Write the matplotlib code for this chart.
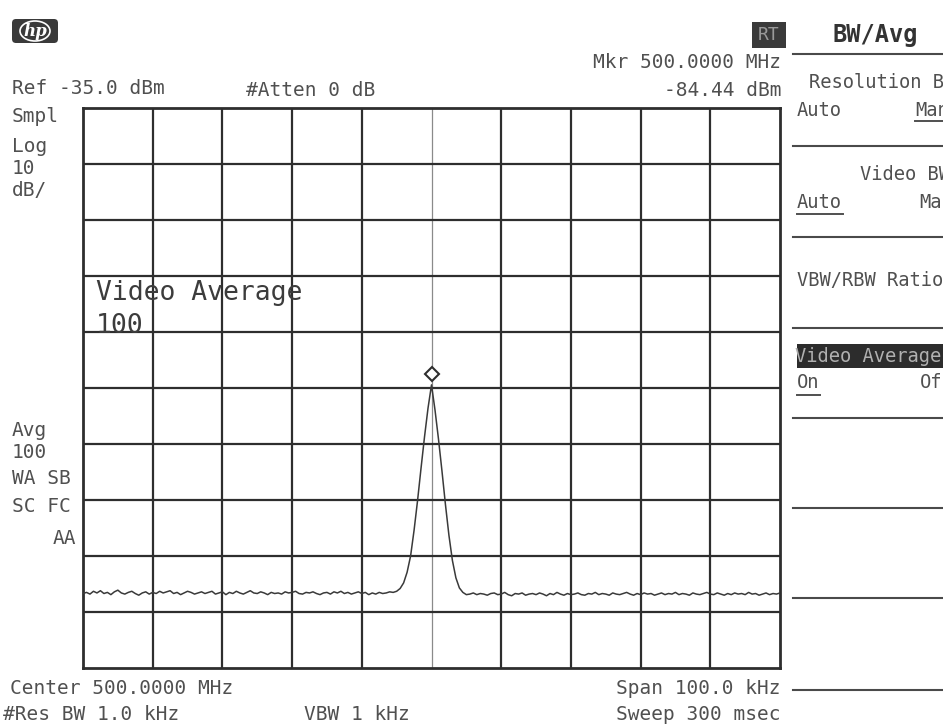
import numpy as np
import matplotlib
matplotlib.use("Agg")
import matplotlib.pyplot as plt
from matplotlib.patches import FancyBboxPatch, Rectangle, Ellipse
from matplotlib import transforms

# screen settings
ref_level = -35.0      # dBm, top graticule line
db_per_div = 10.0
span_khz = 100.0
center_mhz = 500.0
marker_level = -84.44

# averaged trace, 0.5 kHz steps from -50 kHz to +50 kHz about center
floor_left = [
    -121.7, -121.5, -121.8, -121.3, -121.6, -121.2, -121.7, -121.5, -121.9, -121.4,
    -121.1, -121.6, -121.8, -121.5, -121.3, -121.7, -122.0, -121.6, -121.4, -121.8,
    -121.5, -121.7, -121.3, -121.6, -121.4, -121.2, -121.7, -121.5, -121.9, -121.6,
    -121.3, -121.5, -121.8, -121.6, -121.4, -121.7, -121.5, -121.3, -121.8, -121.6,
    -121.4, -121.9, -121.5, -121.7, -121.3, -121.6, -121.8, -121.5, -121.2, -121.6,
    -121.7, -121.4, -121.6, -121.9, -121.5, -121.7, -121.6, -121.8, -121.4, -121.6,
    -121.5, -121.3, -121.7, -121.8, -121.5, -121.6, -121.4, -121.7, -121.9, -121.6,
    -121.5, -121.8, -121.4, -121.6, -121.3, -121.7, -121.5, -121.8, -121.6, -121.4,
    -121.7, -121.5, -121.9, -121.6, -121.8, -121.5, -121.7, -121.6, -121.4, -121.5,
    -121.3,
]
peak = [
    -120.8, -119.8, -117.9, -115.0, -110.4, -105.1, -99.3, -93.7, -88.6, -84.44,
    -88.9, -94.1, -99.8, -105.8, -111.3, -115.8, -118.9, -120.7, -121.5,
]
floor_right = [
    -121.9, -121.8, -121.6, -121.9, -121.7, -121.8, -122.0, -121.7, -121.6, -121.9,
    -121.8, -121.5, -121.9, -122.1, -121.7, -121.8, -121.6, -122.0, -121.8, -121.7,
    -121.9, -121.6, -121.8, -122.1, -121.7, -121.9, -121.5, -121.8, -122.0, -121.7,
    -121.9, -121.8, -121.6, -121.9, -122.0, -121.7, -121.8, -121.5, -121.9, -121.7,
    -121.8, -122.0, -121.6, -121.8, -121.9, -121.7, -121.5, -121.8, -122.0, -121.7,
    -121.9, -121.6, -121.8, -121.7, -122.0, -121.8, -121.6, -121.9, -121.7, -121.8,
    -121.5, -121.9, -121.7, -121.8, -122.0, -121.6, -121.8, -121.9, -121.7, -121.5,
    -121.8, -121.9, -121.6, -121.8, -122.0, -121.7, -121.9, -121.6, -121.8, -121.7,
    -121.9, -121.5, -121.8, -121.7, -122.0, -121.8, -121.6, -121.9, -121.7, -121.8,
    -121.6,
]
levels = np.array(floor_left + peak + floor_right)
freq = np.linspace(-span_khz / 2, span_khz / 2, len(levels))

W, H = 943, 726
ink = "#2e2e2e"
txt = "#505050"
mono = ["DejaVu Sans Mono"]

fig = plt.figure(figsize=(W / 100, H / 100), dpi=100)
fig.patch.set_facecolor("white")

# graticule box in pixel terms
gx0, gx1, gy0, gy1 = 83, 780, 108, 668
ax = fig.add_axes([gx0 / W, 1 - gy1 / H, (gx1 - gx0) / W, (gy1 - gy0) / H])
ax.set_xlim(-span_khz / 2, span_khz / 2)
ax.set_ylim(ref_level - 10 * db_per_div, ref_level)
ax.set_xticks(np.arange(-50, 51, 10))
ax.set_yticks(np.arange(ref_level - 10 * db_per_div, ref_level + 1, db_per_div))
ax.tick_params(left=False, bottom=False, labelleft=False, labelbottom=False)
for x in np.arange(-40, 41, 10):
    if x == 0:
        ax.axvline(x, color="#8a8a8a", lw=0.9, zorder=1)
    else:
        ax.axvline(x, color=ink, lw=1.6, zorder=1)
for y in np.arange(ref_level - 90, ref_level, db_per_div):
    ax.axhline(y, color=ink, lw=1.6, zorder=1)
for s in ax.spines.values():
    s.set_color(ink)
    s.set_linewidth(2.0)

ax.plot(freq, levels, color="#3a3a3a", lw=1.1, zorder=3)

# marker diamond sits just above the peak
i_pk = int(np.argmax(levels))
mk_tr = transforms.offset_copy(ax.transData, fig=fig, y=8, units="points")
ax.plot(freq[i_pk], marker_level, marker="D", ms=7, mfc="white", mec=ink,
        mew=1.5, transform=mk_tr, zorder=4)

ax.text(0.018, 0.693, "Video Average\n100", transform=ax.transAxes,
        family=mono, fontsize=19, color="#3c3c3c", va="top", ha="left",
        linespacing=1.35, zorder=5)

# overlay for annotations, pixel coordinates, y down
ov = fig.add_axes([0, 0, 1, 1], zorder=10)
ov.set_xlim(0, W)
ov.set_ylim(H, 0)
ov.axis("off")
ov.patch.set_alpha(0)


def t(x, y, s, size=14, ha="left", color=txt, **kw):
    return ov.text(x, y, s, fontsize=size, ha=ha, va="center", color=color,
                   family=mono, **kw)


t(12, 89, "Ref -35.0 dBm")
t(246, 90, "#Atten 0 dB")
t(781, 63, "Mkr 500.0000 MHz", ha="right")
t(781, 91, "-84.44 dBm", ha="right")
for yy, s in [(117, "Smpl"), (146, "Log"), (168, "10"), (190, "dB/"),
              (430, "Avg"), (452, "100"), (479, "WA SB"), (506, "SC FC")]:
    t(12, yy, s)
t(76, 539, "AA", ha="right")

t(10, 688, "Center 500.0000 MHz")
t(3, 714, "#Res BW 1.0 kHz")
t(304, 714, "VBW 1 kHz")
t(781, 688, "Span 100.0 kHz", ha="right")
t(781, 714, "Sweep 300 msec", ha="right")

# hp badge
ov.add_patch(FancyBboxPatch((12, 19), 46, 24, boxstyle="round,pad=0,rounding_size=4",
                            fc="#3a3a3a", ec="none"))
ov.add_patch(Ellipse((35, 31), 30, 20, fc="none", ec="white", lw=1.2))
ov.text(35, 31, "hp", fontsize=12, style="italic", weight="bold", color="white",
        ha="center", va="center", family=["DejaVu Serif"])

# RT box
ov.add_patch(Rectangle((752, 22), 34, 26, fc="#3a3a3a", ec="none"))
ov.text(769, 35, "RT", fontsize=13, color="#9a9a9a", ha="center", va="center",
        family=mono)

# softkey panel (runs off the right edge)
t(875, 35, "BW/Avg", size=17, ha="center", color="#333333", weight="bold")
for yy in [54, 146, 237, 328, 418, 508, 598, 690]:
    ov.plot([793, 943], [yy, yy], color="#4a4a4a", lw=1.5)
t(809, 83, "Resolution BW", size=13.5)
t(797, 110, "Auto", size=13.5)
t(915, 110, "Man", size=13.5)
ov.plot([915, 943], [121, 121], color=txt, lw=1.4)
t(860, 174, "Video BW", size=13.5)
t(797, 203, "Auto", size=13.5)
t(919, 203, "Man", size=13.5)
ov.plot([797, 843], [214, 214], color=txt, lw=1.4)
t(797, 280, "VBW/RBW Ratio", size=13.5)
hl = Rectangle((797, 344), 146, 24, fc="#2c2c2c", ec="none")
ov.add_patch(hl)
t(795, 356, "Video Average", size=13.5, color="#b0b0b0", clip_path=hl)
t(797, 383, "On", size=13.5)
t(920, 383, "Off", size=13.5)
ov.plot([797, 820], [395, 395], color=txt, lw=1.4)

fig.savefig("out.png", dpi=100, facecolor="white")
